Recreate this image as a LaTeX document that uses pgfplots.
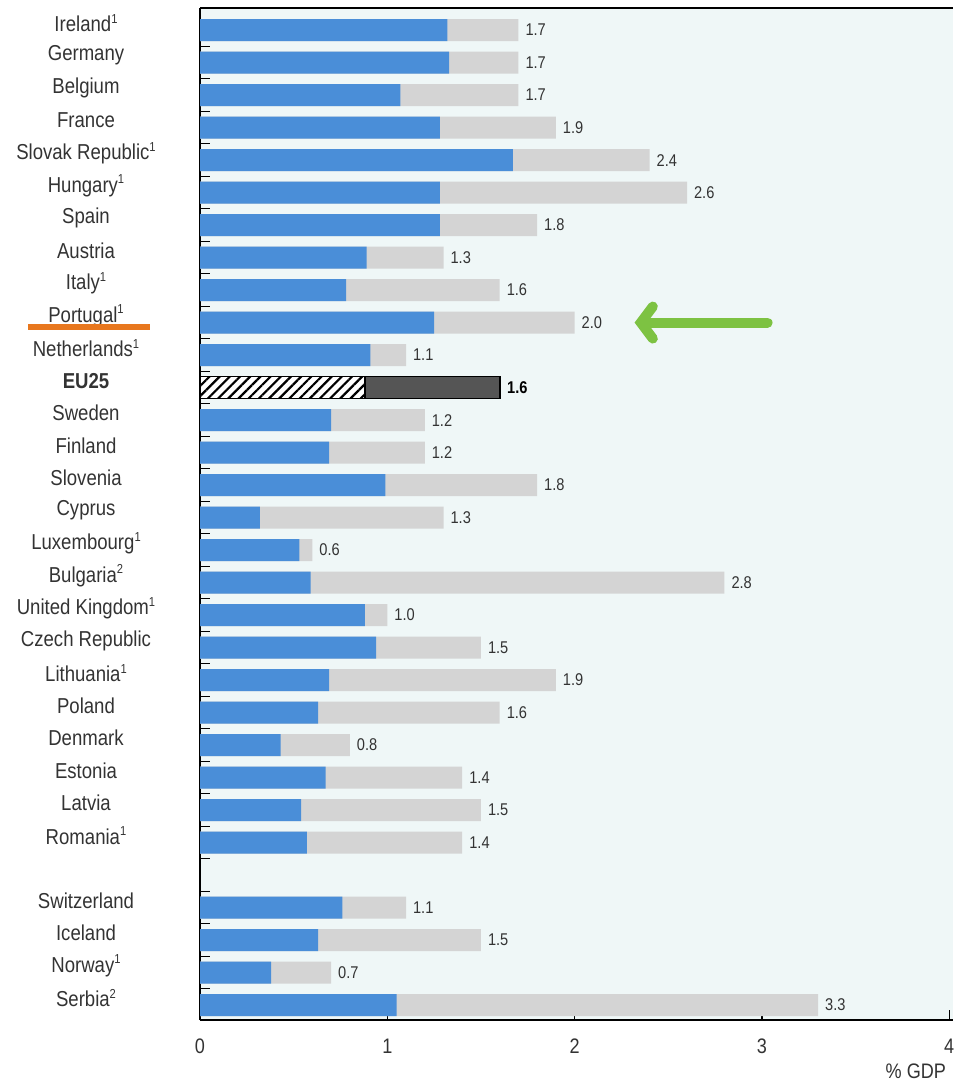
\documentclass[border=0pt]{standalone}
\usepackage{fontspec}
\setmainfont{Liberation Sans}[FakeStretch=0.86]
\usepackage{pgfplots}
\pgfplotsset{compat=1.18}
\usepackage{pgfplotstable}
\usetikzlibrary{patterns.meta,arrows.meta}

\definecolor{barblue}{HTML}{4A8ED8}
\definecolor{bargrey}{HTML}{D4D4D4}
\definecolor{eudark}{HTML}{555555}
\definecolor{panel}{HTML}{EFF7F7}
\definecolor{txt}{HTML}{333333}
\definecolor{mark1}{HTML}{E8771E}
\definecolor{mark2}{HTML}{7DC242}

\newcommand{\fn}[1]{\raisebox{0.75ex}{\fontsize{6.5}{7}\selectfont #1}}

% row: position from top (26 is the empty gap)
\pgfplotstableread{
row blue total
0  1.32 1.7
1  1.33 1.7
2  1.07 1.7
3  1.28 1.9
4  1.67 2.4
5  1.28 2.6
6  1.28 1.8
7  0.89 1.3
8  0.78 1.6
9  1.25 2.0
10 0.91 1.1
12 0.70 1.2
13 0.69 1.2
14 0.99 1.8
15 0.32 1.3
16 0.53 0.6
17 0.59 2.8
18 0.88 1.0
19 0.94 1.5
20 0.69 1.9
21 0.63 1.6
22 0.43 0.8
23 0.67 1.4
24 0.54 1.5
25 0.57 1.4
27 0.76 1.1
28 0.63 1.5
29 0.38 0.7
30 1.05 3.3
}\countries

\pgfplotstableread{
row blue total
11 0.88 1.6
}\eutwentyfive

\begin{document}
\begin{tikzpicture}
\useasboundingbox (0,0) rectangle (476.5pt,542.5pt);
\begin{axis}[
  at={(100pt,32.5pt)}, anchor=south west,
  scale only axis,
  width=376.5pt, height=506pt,
  xmin=0, xmax=4.02,
  ymin=-0.68, ymax=30.46,
  y dir=reverse,
  axis background/.style={fill=panel},
  axis line style={black, line width=0.9pt},
  axis x line*=bottom, axis y line*=left,
  xtick={0,1,2,3,4},
  xticklabels={0,1,2,3,4},
  xtick pos=bottom,
  tick align=inside,
  major tick length=5pt,
  tick style={black, line width=0.6pt},
  xticklabel style={font=\fontsize{10.5}{12}\selectfont, text=txt, yshift=-6pt},
  ytick={0,...,30},
  yticklabels={Ireland\fn{1},Germany,Belgium,France,
    Slovak Republic\fn{1},Hungary\fn{1},Spain,Austria,
    Italy\fn{1},Portugal\fn{1},Netherlands\fn{1},
    \textbf{EU25},Sweden,Finland,Slovenia,Cyprus,Luxembourg\fn{1},
    Bulgaria\fn{2},United Kingdom\fn{1},Czech Republic,
    Lithuania\fn{1},Poland,Denmark,Estonia,Latvia,Romania\fn{1},
    {},Switzerland,Iceland,Norway\fn{1},Serbia\fn{2}},
  ytick style={draw=none},
  yticklabel style={font=\fontsize{10.8}{12}\selectfont, text=txt, anchor=center,
    xshift=-52pt, yshift=3.5pt},
  extra y ticks={0.5,1.5,...,29.5},
  extra y tick labels={},
  extra y tick style={tick align=inside, ytick style={draw=black}, major tick length=5pt},
  xbar, bar width=0.68, bar shift=0pt,
  clip=false,
  /pgf/number format/assume math mode=true,
]
\addplot[fill=bargrey, draw=none,
  nodes near coords, point meta=x,
  every node near coord/.append style={font=\fontsize{8.5}{10}\selectfont, text=txt,
    /pgf/number format/.cd, fixed, fixed zerofill, precision=1, assume math mode=true},
  nodes near coords align={horizontal}]
  table[x=total, y=row] {\countries};
\addplot[fill=barblue, draw=none] table[x=blue, y=row] {\countries};
\addplot[fill=eudark, draw=black, line width=0.8pt,
  nodes near coords, point meta=x,
  every node near coord/.append style={font=\bfseries\fontsize{8.5}{10}\selectfont, text=black,
    /pgf/number format/.cd, fixed, fixed zerofill, precision=1, assume math mode=true},
  nodes near coords align={horizontal}]
  table[x=total, y=row] {\eutwentyfive};
\addplot[fill=white, draw=black, line width=0.8pt,
  postaction={pattern={Lines[angle=45, distance=3.6pt, line width=1.1pt]}}]
  table[x=blue, y=row] {\eutwentyfive};
\draw[black, line width=0.9pt] (axis cs:0,-0.68) -- (axis cs:4.02,-0.68);
\draw[mark2, line width=5pt, -{Straight Barb[length=6pt, width=16pt, line cap=round]}, line cap=round]
  (axis cs:3.03,9) -- (axis cs:2.32,9);
\end{axis}
\node[anchor=north east, font=\fontsize{10.5}{12}\selectfont, text=txt] at (476.5pt,14pt) {\% GDP};
\fill[mark1] (14pt,377.5pt) rectangle (75pt,380.5pt);
\end{tikzpicture}
\end{document}
